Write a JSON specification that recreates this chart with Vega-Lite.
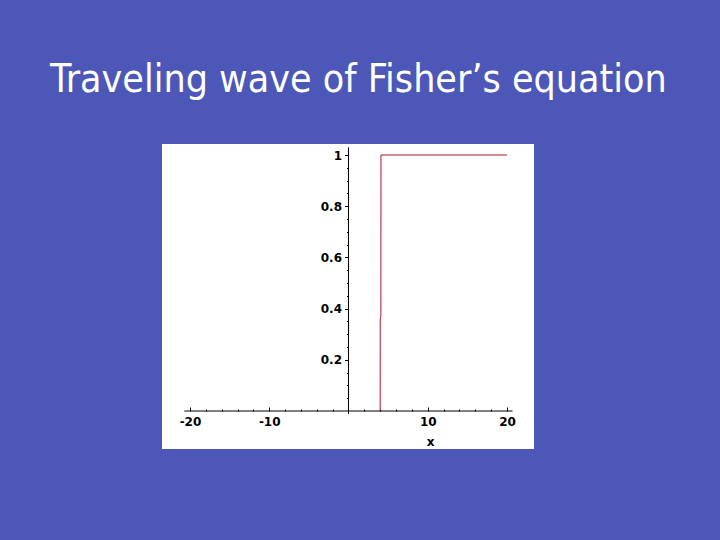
{
  "$schema": "https://vega.github.io/schema/vega-lite/v6.json",
  "width": 372,
  "height": 305,
  "autosize": {"type": "none"},
  "padding": {"left": 162, "top": 144, "right": 186, "bottom": 91},
  "background": "#4c57b8",
  "config": {"view": {"fill": "white", "stroke": null}},
  "title": {
    "text": "Traveling wave of Fisher’s equation",
    "anchor": "start",
    "frame": "group",
    "dx": -112,
    "offset": 44,
    "color": "white",
    "font": "DejaVu Sans Condensed",
    "fontSize": 39,
    "fontWeight": "normal"
  },
  "resolve": {"axis": {"x": "independent", "y": "independent"}},
  "layer": [
    {
      "data": {"values": [
        {"x": 4.0, "u": 0.0},
        {"x": 4.005, "u": 0.36},
        {"x": 4.09, "u": 0.37},
        {"x": 4.1, "u": 1.0},
        {"x": 20.0, "u": 1.0}
      ]},
      "mark": {"type": "line", "color": "#b3121f", "strokeWidth": 1},
      "encoding": {
        "order": {"value": null},
        "x": {
          "field": "x", "type": "quantitative",
          "scale": {"domain": [-23.53, 23.41], "nice": false, "zero": false},
          "axis": {
            "orient": "bottom", "offset": -38,
            "values": [-20, -10, 10, 20],
            "labelExpr": "datum.value < 0 ? '-' + format(-datum.value, 'd') : format(datum.value, 'd')",
            "ticks": false, "domain": false, "grid": false,
            "labelFont": "DejaVu Sans", "labelFontWeight": "bold", "labelFontSize": 12,
            "labelColor": "black", "labelPadding": 5, "labelFlush": false, "labelOverlap": false,
            "title": "x", "titleX": 268, "titleY": 30,
            "titleFont": "DejaVu Sans", "titleFontWeight": "bold", "titleFontSize": 12,
            "titleColor": "black", "titleBaseline": "middle", "titleAlign": "center"
          }
        },
        "y": {
          "field": "u", "type": "quantitative",
          "scale": {"domain": [-0.1484, 1.043], "nice": false, "zero": false},
          "axis": {
            "orient": "left", "offset": -186.5,
            "values": [0.05, 0.1, 0.15, 0.2, 0.25, 0.3, 0.35, 0.4, 0.45, 0.5, 0.55, 0.6, 0.65, 0.7, 0.75, 0.8, 0.85, 0.9, 0.95, 1.0],
            "labelExpr": "abs(datum.value*5 - round(datum.value*5)) < 0.001 ? format(datum.value, '~g') : ''",
            "domain": false, "grid": false, "title": null,
            "tickColor": "black",
            "tickSize": {"condition": {"test": "abs(datum.value*5 - round(datum.value*5)) < 0.001", "value": 4}, "value": 2},
            "labelFont": "DejaVu Sans", "labelFontWeight": "bold", "labelFontSize": 12,
            "labelColor": "black", "labelPadding": 3, "labelOverlap": false, "labelFlush": false
          }
        }
      }
    },
    {
      "data": {"values": [{}]},
      "mark": {"type": "rule", "color": "black", "strokeWidth": 1},
      "encoding": {
        "x": {
          "datum": -20.7, "type": "quantitative",
          "scale": {"domain": [-23.53, 23.41], "nice": false, "zero": false},
          "axis": {
            "orient": "top", "offset": -267,
            "values": [-20, -18, -16, -14, -12, -10, -8, -6, -4, -2, 2, 4, 6, 8, 10, 12, 14, 16, 18, 20],
            "labels": false, "domain": false, "grid": false, "title": null,
            "tickColor": "black",
            "tickSize": {"condition": {"test": "datum.value % 10 == 0", "value": 4}, "value": 2}
          }
        },
        "x2": {"datum": 20.7},
        "y": {"datum": 0, "type": "quantitative", "scale": {"domain": [-0.1484, 1.043], "nice": false, "zero": false}, "axis": null},
        "y2": {"datum": 0}
      }
    },
    {
      "data": {"values": [{}]},
      "mark": {"type": "rule", "color": "black", "strokeWidth": 1},
      "encoding": {
        "x": {"datum": 0, "type": "quantitative", "scale": {"domain": [-23.53, 23.41], "nice": false, "zero": false}, "axis": null},
        "y": {"datum": -0.012, "type": "quantitative", "scale": {"domain": [-0.1484, 1.043], "nice": false, "zero": false}, "axis": null},
        "y2": {"datum": 1.03}
      }
    }
  ]
}
